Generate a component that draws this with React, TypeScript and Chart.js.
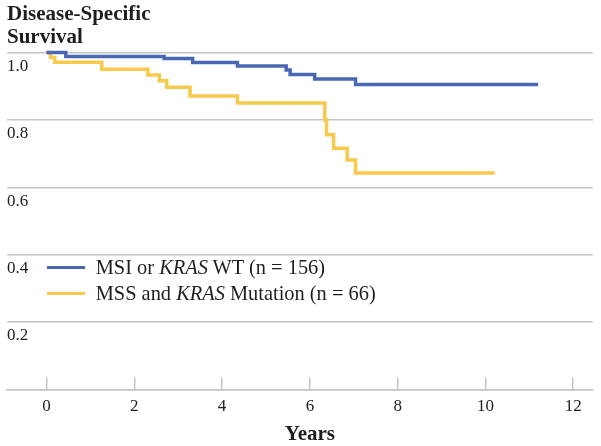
import React, { useEffect, useRef } from 'react';
import { Chart, registerables } from 'chart.js';

Chart.register(...registerables);

const FONT = '"Liberation Serif", "Times New Roman", Times, serif';
Chart.defaults.font.family = FONT;

// Axis ticks and titles
const X_TICKS = [0, 2, 4, 6, 8, 10, 12];
const Y_TICKS = [0, 0.2, 0.4, 0.6, 0.8, 1.0];
const X_MIN = -0.9;
const X_MAX = 12.45;
const X_TITLE = 'Years';
const Y_TITLE = ['Disease-Specific', 'Survival'];

// Series 1: MSI or KRAS WT
const WT_LABEL = [{ text: 'MSI or ' }, { text: 'KRAS', italic: true }, { text: ' WT (n = 156)' }];
const WT_TIMES = [0, 0.44, 2.68, 3.33, 4.35, 5.46, 5.55, 6.11, 7.04, 11.2];
const WT_SURV = [1.0, 0.988, 0.982, 0.970, 0.960, 0.948, 0.935, 0.921, 0.905, 0.905];

// Series 2: MSS and KRAS Mutation
const MUT_LABEL = [{ text: 'MSS and ' }, { text: 'KRAS', italic: true }, { text: ' Mutation (n = 66)' }];
const MUT_TIMES = [0, 0.09, 0.19, 1.26, 2.31, 2.57, 2.74, 3.27, 4.35, 6.34, 6.38, 6.54, 6.85, 7.04, 10.21];
const MUT_SURV = [1.0, 0.985, 0.971, 0.950, 0.933, 0.916, 0.897, 0.871, 0.850, 0.800, 0.756, 0.716, 0.681, 0.642, 0.642];

const BLUE = '#4a68b2';
const YELLOW = '#f7ca4c';
const GRID = '#c6c6c6';
const TEXT = '#1e1e1e';

const SERIES = [
  { label: WT_LABEL, times: WT_TIMES, surv: WT_SURV, color: BLUE },
  { label: MUT_LABEL, times: MUT_TIMES, surv: MUT_SURV, color: YELLOW },
];

const xTitlePlugin = {
  id: 'xTitleCentered',
  afterDraw(chart: any) {
    const xs = chart.scales.x;
    const ctx = chart.ctx;
    const mid = (X_TICKS[0] + X_TICKS[X_TICKS.length - 1]) / 2;
    ctx.save();
    ctx.font = `bold 21px ${FONT}`;
    ctx.fillStyle = TEXT;
    ctx.textAlign = 'center';
    ctx.textBaseline = 'alphabetic';
    ctx.fillText(X_TITLE, xs.getPixelForValue(mid), 440);
    ctx.restore();
  },
};

export default function App() {
  const ref = useRef<HTMLCanvasElement>(null);

  useEffect(() => {
    if (!ref.current) return;
    const chart = new Chart(ref.current, {
      type: 'line',
      data: {
        datasets: SERIES.map((s) => ({
          label: s.label.map((p) => p.text).join(''),
          data: s.times.map((t, i) => ({ x: t, y: s.surv[i] })),
          borderColor: s.color,
          backgroundColor: s.color,
          borderWidth: 3.5,
          stepped: true,
          pointRadius: 0,
          fill: false,
          clip: false as any,
        })),
      },
      options: {
        responsive: false,
        animation: false,
        layout: { padding: { left: 7, right: 8, top: 0, bottom: 11 } },
        plugins: {
          legend: { display: false },
          tooltip: { enabled: false },
          title: {
            display: true,
            text: Y_TITLE,
            align: 'start',
            color: TEXT,
            font: { family: FONT, size: 21, weight: 'bold', lineHeight: 23 / 21 },
            padding: { top: 2.7, bottom: 3.8 },
          },
        },
        scales: {
          x: {
            type: 'linear',
            min: X_MIN,
            max: X_MAX,
            afterBuildTicks: (scale: any) => {
              scale.ticks = X_TICKS.map((value) => ({ value }));
            },
            grid: {
              display: true,
              drawOnChartArea: false,
              drawTicks: true,
              tickLength: -12,
              color: GRID,
              lineWidth: 1.5,
            },
            border: { display: true, color: GRID, width: 1.5 },
            ticks: {
              padding: 18.6,
              color: TEXT,
              font: { family: FONT, size: 17 },
              maxRotation: 0,
              autoSkip: false,
              callback: (v: any) => String(v),
            },
          },
          y: {
            type: 'linear',
            min: 0,
            max: 1,
            afterBuildTicks: (scale: any) => {
              scale.ticks = Y_TICKS.map((value) => ({ value }));
            },
            grid: { drawTicks: false, color: GRID, lineWidth: 1.5 },
            border: { display: false },
            ticks: {
              mirror: true,
              padding: 0,
              labelOffset: 14,
              color: TEXT,
              font: { family: FONT, size: 17 },
              callback: (v: any) => (Number(v) === 0 ? '' : Number(v).toFixed(1)),
            },
          },
        },
      } as any,
      plugins: [xTitlePlugin],
    });
    return () => chart.destroy();
  }, []);

  return (
    <div style={{ position: 'absolute', left: 0, top: 0, width: 601, height: 446, background: '#fff' }}>
      <canvas ref={ref} width={601} height={446} style={{ display: 'block' }} />
      <div style={{ position: 'absolute', left: 46.7, top: 254.3, fontFamily: FONT, fontSize: 20.4, color: TEXT }}>
        {SERIES.map((s, idx) => (
          <div key={idx} style={{ display: 'flex', alignItems: 'center', height: 26, whiteSpace: 'nowrap' }}>
            <span style={{ display: 'inline-block', width: 38, height: 3.5, background: s.color, marginRight: 11 }} />
            <span style={{ lineHeight: '26px' }}>
              {s.label.map((p, j) => (
                <span key={j} style={{ fontStyle: p.italic ? 'italic' : 'normal' }}>{p.text}</span>
              ))}
            </span>
          </div>
        ))}
      </div>
    </div>
  );
}
